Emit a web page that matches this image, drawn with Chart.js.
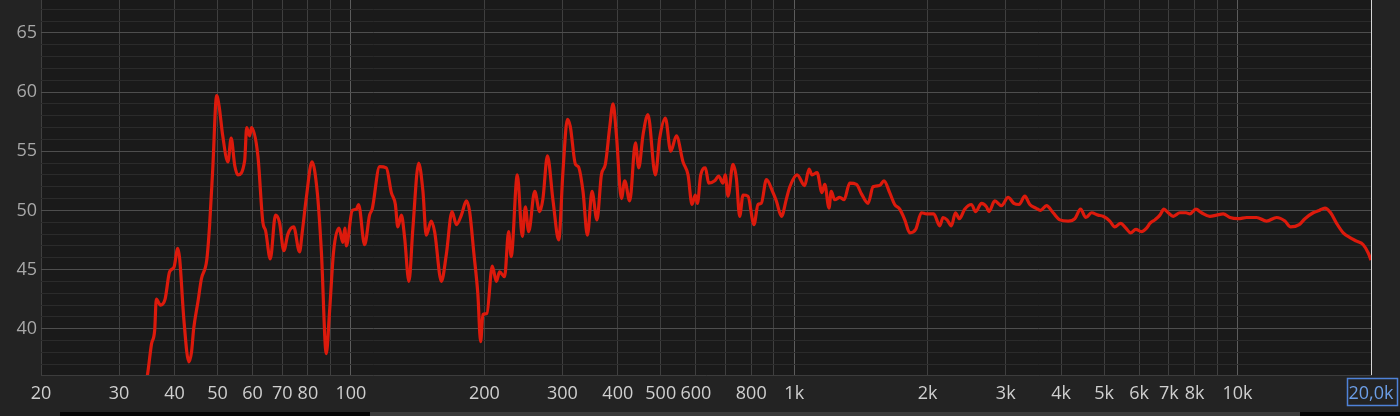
<!DOCTYPE html>
<html>
<head>
<meta charset="utf-8">
<style>
  html, body { margin: 0; padding: 0; background: #232323; }
  #wrap { width: 1400px; height: 416px; }
</style>
<script src="https://cdn.jsdelivr.net/npm/chart.js@4/dist/chart.umd.min.js"></script>
</head>
<body>
<div id="wrap"><canvas id="fr-chart" width="1400" height="416"></canvas></div>
<script>
// Frequency response (Hz / dB)
const freqs = [
  34.3, 34.8, 35.5, 36.1, 36.4, 37.2, 38.1, 39.0, 39.9, 40.7, 41.1, 42.0, 43.1, 43.7, 44.2, 45.2,
  46.0, 47.3, 48.0, 48.8, 49.8, 50.4, 51.4, 52.8, 53.7, 54.7, 55.6, 57.6, 58.2, 59.1, 59.7, 61.7,
  63.3, 64.2, 65.8, 67.6, 69.0, 70.6, 72.1, 74.3, 76.6, 77.7, 79.3, 81.7, 84.0, 85.8, 88.0, 89.5,
  91.4, 94.0, 95.9, 96.9, 97.7, 100.7, 102.9, 104.1, 107.4, 110.2, 111.7, 116.1, 120.2, 123.4,
  126.0, 127.6, 130.0, 132.2, 135.2, 138.0, 142.2, 145.4, 147.9, 151.8, 154.5, 160.0, 164.2,
  169.1, 173.0, 177.5, 182.2, 185.3, 189.5, 193.4, 196.2, 198.5, 202.7, 208.4, 212.9, 216.5,
  222.2, 226.9, 229.9, 237.4, 243.6, 247.5, 251.8, 259.8, 266.6, 271.2, 277.5, 285.8, 294.3,
  300.9, 307.9, 312.5, 321.0, 325.9, 333.9, 341.6, 349.9, 359.0, 367.3, 375.0, 383.5, 390.2,
  397.1, 407.6, 414.7, 425.6, 438.4, 445.9, 456.1, 467.8, 486.2, 497.2, 512.2, 526.5, 542.4,
  561.3, 576.1, 588.2, 598.2, 604.9, 615.3, 630.5, 641.4, 661.7, 675.6, 690.9, 699, 709, 727.6,
  740.6, 753.4, 766.5, 786.6, 811.5, 828.5, 842.9, 865.6, 895.8, 911.5, 936, 960.7, 977.5, 1015,
  1056, 1080, 1097, 1126, 1155, 1172, 1198, 1212, 1234, 1267, 1296, 1334, 1382, 1418, 1468, 1506,
  1559, 1594, 1642, 1685, 1730, 1776, 1823, 1880, 1936, 1988, 2064, 2130, 2166, 2212, 2263, 2310,
  2359, 2424, 2510, 2567, 2645, 2715, 2750, 2834, 2935, 3037, 3129, 3216, 3312, 3400, 3508, 3594,
  3708, 3838, 3974, 4149, 4296, 4425, 4548, 4684, 4847, 4975, 5151, 5286, 5446, 5599, 5737, 5898,
  6074, 6234, 6343, 6509, 6681, 6822, 6976, 7160, 7414, 7649, 7810, 8053, 8296, 8662, 8968, 9283,
  9613, 10036, 10484, 11040, 11630, 12250, 12790, 13175, 13775, 14190, 14815, 15285, 15743,
  16218, 16731, 17315, 17927, 18560, 19210, 19716, 20000
];
const levels = [
  35.0, 36.2, 38.7, 39.9, 42.5, 42.0, 42.5, 44.8, 45.2, 46.8, 45.9, 40.8, 37.2, 38.0, 40.0, 42.3,
  44.2, 45.8, 48.7, 53.5, 59.7, 58.9, 56.3, 54.1, 56.1, 53.8, 53.0, 54.2, 57.0, 56.3, 57.0, 54.6,
  49.0, 48.3, 45.9, 49.6, 49.0, 46.6, 48.0, 48.6, 46.5, 48.2, 51.0, 54.1, 51.5, 46.5, 37.9, 41.4,
  46.5, 48.5, 47.3, 48.5, 47.0, 50.0, 50.1, 50.5, 47.1, 49.6, 50.1, 53.7, 53.6, 51.5,
  50.5, 48.6, 49.6, 47.7, 44.0, 48.5, 54.0, 51.6, 47.9, 49.1, 48.2, 44.0, 46.3,
  49.9, 48.8, 49.6, 50.8, 49.9, 46.3, 42.9, 38.9, 41.2, 41.3, 45.3, 44.0, 44.8,
  44.4, 48.2, 46.1, 53.0, 47.8, 50.3, 48.2, 51.6, 49.9, 51.0, 54.6, 50.8, 47.5,
  53.3, 57.7, 57.1, 53.9, 53.7, 51.6, 47.9, 51.6, 49.2, 53.0, 53.9, 57.0, 59.0,
  56.4, 51.0, 52.5, 50.8, 55.7, 53.6, 56.4, 58.1, 53.0, 56.1, 57.8, 55.0, 56.3,
  54.1, 53.0, 50.5, 51.3, 50.6, 53.0, 53.6, 52.3, 52.5, 52.9, 52.3, 53.0, 51.2, 53.9,
  52.7, 49.5, 51.3, 51.2, 48.8, 50.5, 50.6, 52.6, 51.5, 50.8, 49.5, 51.0, 52.0, 53.0,
  52.1, 53.5, 53.0, 53.2, 51.5, 52.2, 50.2, 51.6, 50.9, 51.1, 50.9, 52.3, 52.2, 51.4, 50.6, 52.0,
  52.1, 52.5, 51.5, 50.5, 50.1, 49.2, 48.1, 48.4, 49.8, 49.7, 49.7, 48.7, 49.4, 49.2, 48.7, 49.8,
  49.3, 50.1, 50.5, 49.9, 50.6, 50.3, 49.9, 50.8, 50.4, 51.1, 50.6, 50.5, 51.2, 50.5, 50.2, 50.0,
  50.4, 49.8, 49.2, 49.1, 49.3, 50.1, 49.4, 49.8, 49.6, 49.5, 49.1, 48.6, 48.9, 48.5, 48.1, 48.4,
  48.2, 48.5, 48.9, 49.2, 49.6, 50.1, 49.8, 49.5, 49.8, 49.8, 49.7, 50.1, 49.8, 49.5, 49.6, 49.7,
  49.4, 49.3, 49.4, 49.4, 49.1, 49.4, 49.1, 48.6, 48.8, 49.3, 49.8, 50.0, 50.2,
  49.8, 48.9, 48.1, 47.7, 47.4, 47.1, 46.4, 45.8
];

// Axis range and ticks
const freqMin = 20;
const freqMax = 20000;
const levelMin = 36.09;
const levelMax = 67.78;
const gridLevels = [37, 38, 39, 40, 41, 42, 43, 44, 45, 46, 47, 48, 49, 50, 51, 52,
  53, 54, 55, 56, 57, 58, 59, 60, 61, 62, 63, 64, 65, 66, 67];
const labelLevels = [40, 45, 50, 55, 60, 65];
const gridFreqs = [
  20, 30, 40, 50, 60, 70, 80, 90, 100, 200, 300, 400, 500, 600, 700, 800, 900,
  1000, 2000, 3000, 4000, 5000, 6000, 7000, 8000, 9000, 10000, 20000
];
const labelFreqs = [20, 30, 40, 50, 60, 70, 80, 100, 200, 300, 400, 500, 600, 800,
  1000, 2000, 3000, 4000, 5000, 6000, 7000, 8000, 10000, 20000];
const labelTexts = ['20', '30', '40', '50', '60', '70', '80', '100', '200', '300', '400', '500', '600', '800',
  '1k', '2k', '3k', '4k', '5k', '6k', '7k', '8k', '10k', '20,0k'];
const decadeFreqs = [100, 1000, 10000];

Chart.defaults.font.family = "'Open Sans', sans-serif";
Chart.defaults.font.size = 18;

// Paint backgrounds, bottom strip and the boxed end label
const backdrop = {
  id: 'backdrop',
  beforeDraw(chart) {
    const { ctx, chartArea } = chart;
    ctx.save();
    ctx.fillStyle = '#232323';
    ctx.fillRect(0, 0, chart.width, chart.height);
    ctx.fillStyle = '#1a1a1a';
    ctx.fillRect(chartArea.left, chartArea.top, chartArea.right - chartArea.left, chartArea.bottom - chartArea.top);
    ctx.fillStyle = '#050505';
    ctx.fillRect(60, 412, 310, 4);
    ctx.fillStyle = '#3a3a3a';
    ctx.fillRect(370, 412, 930, 4);
    ctx.fillStyle = '#050505';
    ctx.fillRect(1300, 412, 100, 4);
    ctx.restore();
  },
  afterDraw(chart) {
    const { ctx } = chart;
    const xs = chart.scales.x;
    const px = xs.getPixelForValue(freqMax);
    ctx.save();
    ctx.strokeStyle = '#4f82d8';
    ctx.lineWidth = 1.5;
    ctx.strokeRect(Math.round(px) - 23.5, 378.5, 50, 27);
    ctx.restore();
  }
};

function initializeChart() {
  const ctx = document.getElementById('fr-chart');

  new Chart(ctx, {
    type: 'line',
    data: {
      datasets: [
        {
          data: freqs.map((f, i) => ({ x: f, y: levels[i] })),
          borderColor: '#dc1a0c',
          borderWidth: 3.2,
          pointRadius: 0,
          cubicInterpolationMode: 'monotone',
          fill: false,
        },
      ],
    },
    options: {
      responsive: false,
      animation: false,
      devicePixelRatio: 1,
      layout: { padding: { top: 0, right: 29, left: 0, bottom: 0 } },
      plugins: {
        legend: { display: false },
        tooltip: { enabled: false },
      },
      scales: {
        x: {
          type: 'logarithmic',
          min: freqMin,
          max: freqMax,
          afterBuildTicks: scale => {
            scale.ticks = gridFreqs.map(v => ({ value: v }));
          },
          afterFit: scale => {
            scale.height = 41;
            scale.paddingLeft = 0;
            scale.paddingRight = 0;
          },
          ticks: {
            autoSkip: false,
            maxRotation: 0,
            padding: 8,
            color: c => (c.tick && c.tick.value === freqMax ? '#6c9ee6' : '#cfcfcf'),
            callback: value => {
              const i = labelFreqs.indexOf(value);
              return i >= 0 ? labelTexts[i] : '';
            },
          },
          grid: {
            drawTicks: false,
            color: c => {
              const v = c.tick ? c.tick.value : 0;
              if (v === freqMax) return '#d6d6d6';
              if (decadeFreqs.includes(v)) return '#5c5c5c';
              return '#3f3f3f';
            },
          },
          border: { display: true, color: '#3c3c3c' },
        },
        y: {
          min: levelMin,
          max: levelMax,
          afterBuildTicks: scale => {
            scale.ticks = gridLevels.map(v => ({ value: v }));
          },
          afterFit: scale => {
            scale.width = 41;
            scale.paddingTop = 0;
            scale.paddingBottom = 0;
          },
          ticks: {
            autoSkip: false,
            padding: 4,
            color: '#a8a8a8',
            callback: value => (labelLevels.includes(value) ? String(value) : ''),
          },
          grid: {
            drawTicks: false,
            color: c => (c.tick && labelLevels.includes(c.tick.value) ? '#4e4e4e' : '#2b2b2b'),
          },
          border: { display: false },
        },
      },
    },
    plugins: [backdrop],
  });
}

initializeChart();
</script>
</body>
</html>
